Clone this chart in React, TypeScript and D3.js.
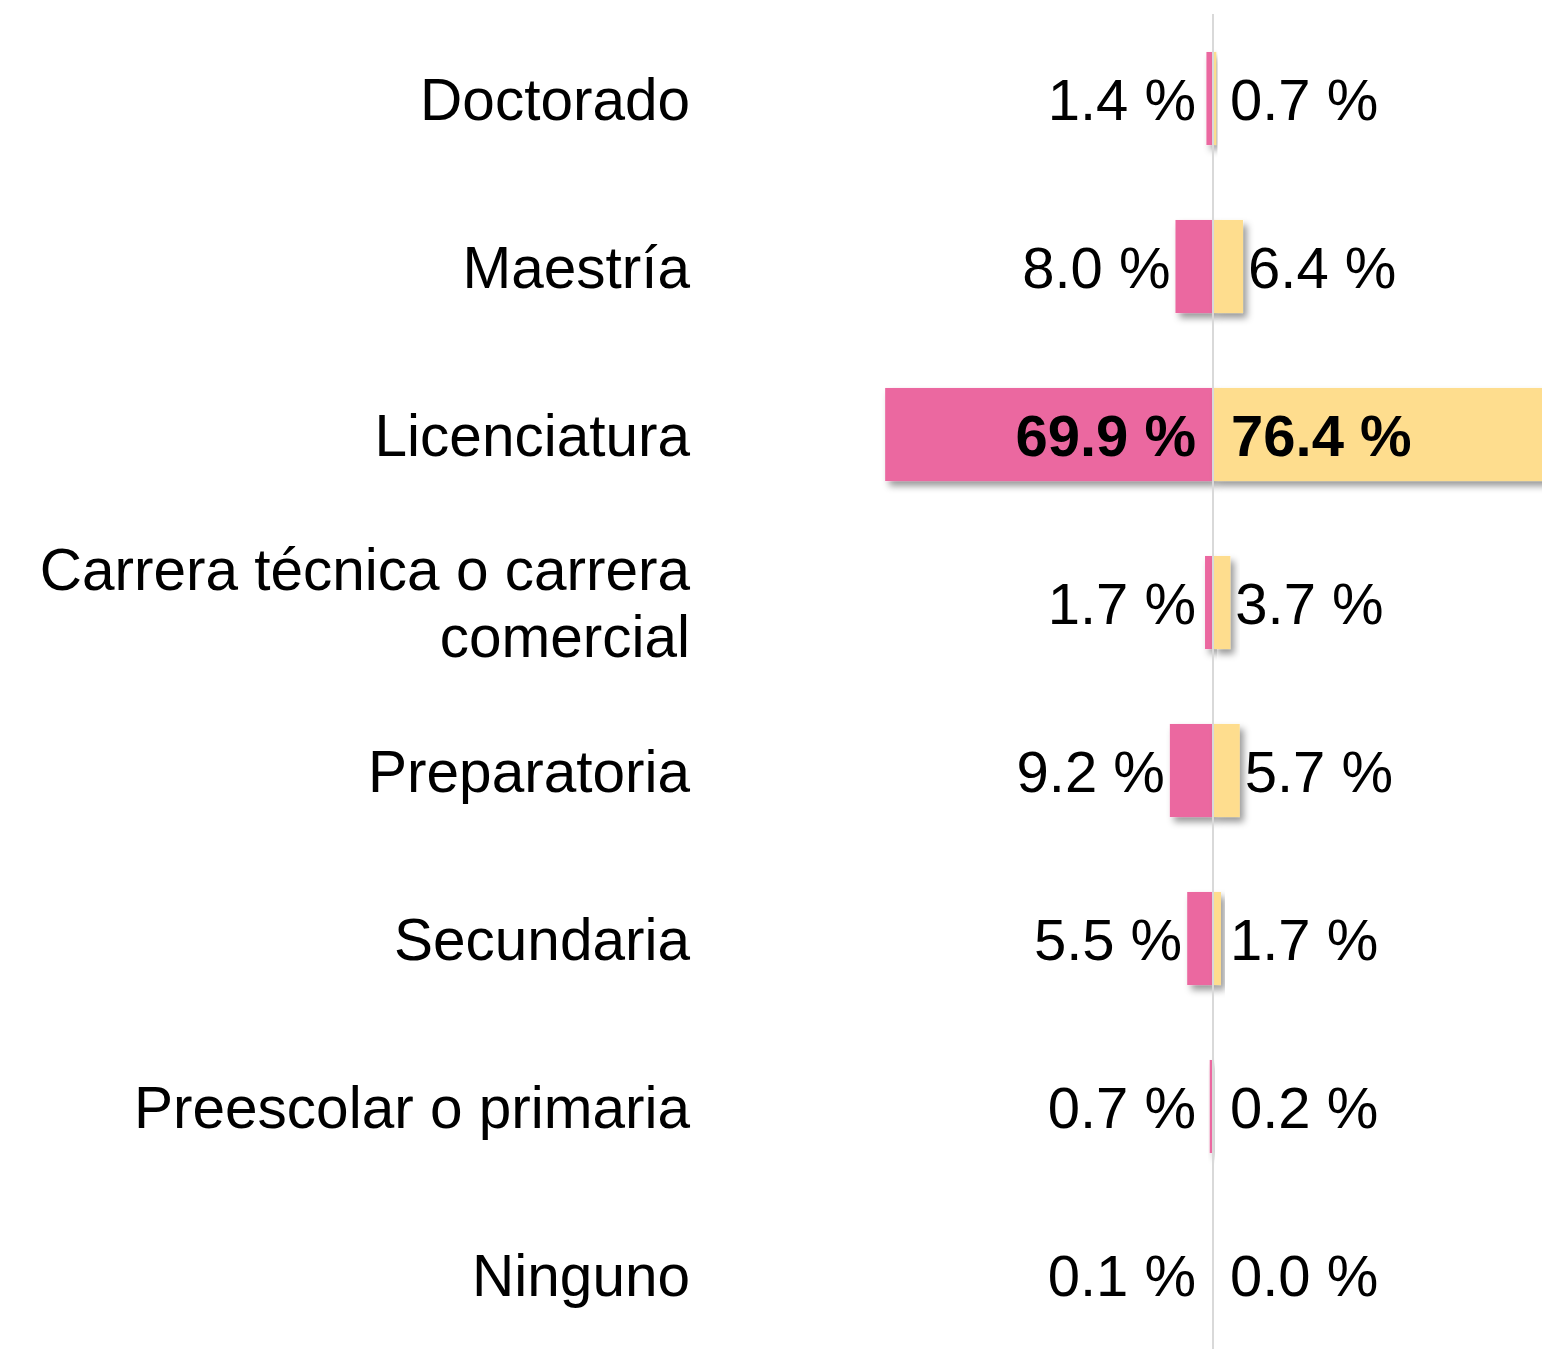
import React from "react";
import * as d3 from "d3";

const categories: string[][] = [
  ["Doctorado"],
  ["Maestría"],
  ["Licenciatura"],
  ["Carrera técnica o carrera", "comercial"],
  ["Preparatoria"],
  ["Secundaria"],
  ["Preescolar o primaria"],
  ["Ninguno"],
];
const leftValues = [1.4, 8.0, 69.9, 1.7, 9.2, 5.5, 0.7, 0.1];
const rightValues = [0.7, 6.4, 76.4, 3.7, 5.7, 1.7, 0.2, 0.0];

const W = 1542;
const H = 1349;
const CX = 1213;
const PINK = "#EB68A0";
const YELLOW = "#FEDD8E";
const FONT = "'Liberation Sans', Arial, sans-serif";

export default function App() {
  const keys = categories.map((_, i) => String(i));
  const y = d3
    .scaleBand<string>()
    .domain(keys)
    .range([14.5, 14.5 + 168 * categories.length])
    .paddingInner(0.446)
    .paddingOuter(0.223);
  const x = d3.scaleLinear().domain([0, 100]).range([0, 469]);
  const fmt = (v: number) => `${d3.format(".1f")(v)} %`;

  return (
    <svg
      width={W}
      height={H}
      style={{ position: "absolute", left: 0, top: 0, background: "#fff" }}
    >
      <defs>
        <filter id="sh" x="-50%" y="-50%" width="200%" height="200%">
          <feDropShadow dx="4" dy="5" stdDeviation="3.5" floodColor="#000" floodOpacity="0.4" />
        </filter>
      </defs>
      {categories.map((lines, i) => {
        const top = y(String(i))!;
        const bw = y.bandwidth();
        const cy = top + bw / 2;
        const lv = leftValues[i];
        const rv = rightValues[i];
        const lw = x(lv);
        const rw = x(rv);
        const big = lv > 30;
        const lx = big ? 1196 : Math.min(1196, CX - lw - 5);
        const rx = rv > 30 ? 1231 : Math.max(1230, CX + rw + 5);
        const lh = 67;
        const y0 = cy + 21 - ((lines.length - 1) * lh) / 2;
        return (
          <g key={i}>
            <text
              x={690}
              textAnchor="end"
              fontFamily={FONT}
              fontSize={58.5}
              fill="#000"
            >
              {lines.map((l, j) => (
                <tspan key={j} x={690} y={y0 + j * lh}>
                  {l}
                </tspan>
              ))}
            </text>
            {lw > 0 && (
              <rect x={CX - lw} y={top} width={lw} height={bw} fill={PINK} filter="url(#sh)" />
            )}
            {rw > 0 && (
              <rect x={CX} y={top} width={rw} height={bw} fill={YELLOW} filter="url(#sh)" />
            )}
            <text
              x={lx}
              y={cy + 21.5}
              textAnchor="end"
              fontFamily={FONT}
              fontSize={58}
              fontWeight={big ? "bold" : "normal"}
              fill="#000"
            >
              {fmt(lv)}
            </text>
            <text
              x={rx}
              y={cy + 21.5}
              textAnchor="start"
              fontFamily={FONT}
              fontSize={58}
              fontWeight={rv > 30 ? "bold" : "normal"}
              fill="#000"
            >
              {fmt(rv)}
            </text>
          </g>
        );
      })}
      <line x1={CX} x2={CX} y1={14} y2={H} stroke="#d9d9d9" strokeWidth={2} />
    </svg>
  );
}
